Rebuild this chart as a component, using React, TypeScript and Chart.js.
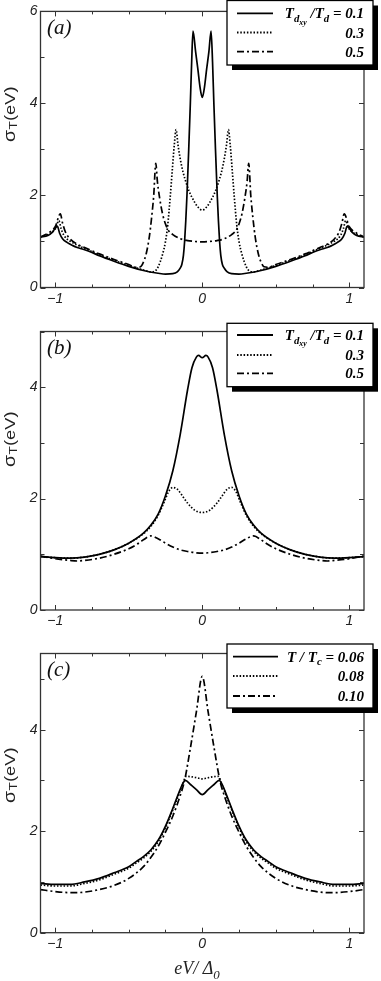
import React, { useEffect, useRef } from "react";
import { Chart, registerables } from "chart.js";

Chart.register(...registerables);

// ---------- data: x = eV/Δ0, y = σT (eV) ----------
// Panel (a)
const A1_X = [-1.1, -1.05, -1.02, -0.985, -0.97, -0.95, -0.92, -0.88, -0.85, -0.8, -0.75, -0.7, -0.6, -0.5, -0.4, -0.3, -0.25, -0.2, -0.17, -0.15, -0.139, -0.128, -0.12, -0.112, -0.104, -0.092, -0.081, -0.072, -0.063, -0.045, -0.03, -0.015, 0, 0.015, 0.03, 0.045, 0.06, 0.07, 0.079, 0.09, 0.102, 0.11, 0.118, 0.126, 0.137, 0.15, 0.17, 0.2, 0.25, 0.3, 0.4, 0.5, 0.6, 0.7, 0.75, 0.8, 0.85, 0.88, 0.92, 0.95, 0.97, 0.985, 1.02, 1.05, 1.1];
const A1_Y = [1.1, 1.13, 1.2, 1.33, 1.18, 1.06, 0.98, 0.91, 0.87, 0.82, 0.76, 0.69, 0.57, 0.46, 0.37, 0.31, 0.29, 0.3, 0.34, 0.42, 0.5, 0.7, 1.0, 1.45, 2.0, 3.0, 4.0, 4.9, 5.57, 5.12, 4.75, 4.35, 4.13, 4.35, 4.75, 5.12, 5.57, 4.9, 4.0, 3.0, 2.0, 1.45, 1.0, 0.7, 0.5, 0.42, 0.34, 0.3, 0.29, 0.31, 0.37, 0.46, 0.57, 0.69, 0.76, 0.82, 0.87, 0.91, 0.98, 1.06, 1.18, 1.33, 1.2, 1.13, 1.1];

const A2_X = [-1.1, -1.05, -1.0, -0.975, -0.96, -0.94, -0.9, -0.85, -0.8, -0.75, -0.7, -0.6, -0.5, -0.4, -0.35, -0.32, -0.3, -0.27, -0.25, -0.235, -0.217, -0.205, -0.19, -0.178, -0.165, -0.15, -0.13, -0.11, -0.09, -0.06, -0.03, 0, 0.03, 0.06, 0.09, 0.11, 0.13, 0.15, 0.165, 0.178, 0.19, 0.205, 0.217, 0.235, 0.25, 0.27, 0.3, 0.32, 0.35, 0.4, 0.5, 0.6, 0.7, 0.75, 0.8, 0.85, 0.9, 0.94, 0.96, 0.975, 1.0, 1.05, 1.1];
const A2_Y = [1.1, 1.15, 1.27, 1.45, 1.28, 1.13, 1.01, 0.92, 0.85, 0.78, 0.71, 0.59, 0.48, 0.38, 0.34, 0.36, 0.45, 0.72, 1.0, 1.35, 2.0, 2.5, 3.1, 3.43, 3.1, 2.8, 2.5, 2.28, 2.1, 1.9, 1.75, 1.68, 1.75, 1.9, 2.1, 2.28, 2.5, 2.8, 3.1, 3.43, 3.1, 2.5, 2.0, 1.35, 1.0, 0.72, 0.45, 0.36, 0.34, 0.38, 0.48, 0.59, 0.71, 0.78, 0.85, 0.92, 1.01, 1.13, 1.28, 1.45, 1.27, 1.15, 1.1];

const A3_X = [-1.1, -1.05, -1.0, -0.965, -0.95, -0.93, -0.9, -0.85, -0.8, -0.75, -0.7, -0.6, -0.5, -0.45, -0.42, -0.4, -0.38, -0.36, -0.345, -0.33, -0.316, -0.305, -0.29, -0.27, -0.25, -0.23, -0.2, -0.15, -0.1, -0.05, 0, 0.05, 0.1, 0.15, 0.2, 0.23, 0.25, 0.27, 0.29, 0.305, 0.316, 0.33, 0.345, 0.36, 0.38, 0.4, 0.42, 0.45, 0.5, 0.6, 0.7, 0.75, 0.8, 0.85, 0.9, 0.93, 0.95, 0.965, 1.0, 1.05, 1.1];
const A3_Y = [1.1, 1.18, 1.32, 1.6, 1.4, 1.2, 1.06, 0.94, 0.87, 0.8, 0.73, 0.61, 0.5, 0.44, 0.45, 0.55, 0.75, 1.1, 1.5, 2.0, 2.7, 2.3, 1.95, 1.6, 1.38, 1.24, 1.15, 1.06, 1.02, 1.0, 0.99, 1.0, 1.02, 1.06, 1.15, 1.24, 1.38, 1.6, 1.95, 2.3, 2.7, 2.0, 1.5, 1.1, 0.75, 0.55, 0.45, 0.44, 0.5, 0.61, 0.73, 0.8, 0.87, 0.94, 1.06, 1.2, 1.4, 1.6, 1.32, 1.18, 1.1];

// Panel (b)
const B1_X = [-1.1, -1.0, -0.9, -0.8, -0.7, -0.6, -0.5, -0.4, -0.35, -0.3, -0.25, -0.2, -0.15, -0.1, -0.07, -0.04, -0.025, 0, 0.025, 0.04, 0.07, 0.1, 0.15, 0.2, 0.25, 0.3, 0.35, 0.4, 0.5, 0.6, 0.7, 0.8, 0.9, 1.0, 1.1];
const B1_Y = [0.96, 0.94, 0.93, 0.95, 1.0, 1.08, 1.2, 1.38, 1.52, 1.72, 2.05, 2.5, 3.15, 3.95, 4.35, 4.54, 4.57, 4.53, 4.57, 4.54, 4.35, 3.95, 3.15, 2.5, 2.05, 1.72, 1.52, 1.38, 1.2, 1.08, 1.0, 0.95, 0.93, 0.94, 0.96];

const B2_X = [-1.1, -1.0, -0.9, -0.8, -0.7, -0.6, -0.5, -0.4, -0.35, -0.3, -0.26, -0.23, -0.2, -0.17, -0.13, -0.1, -0.05, 0, 0.05, 0.1, 0.13, 0.17, 0.2, 0.23, 0.26, 0.3, 0.35, 0.4, 0.5, 0.6, 0.7, 0.8, 0.9, 1.0, 1.1];
const B2_Y = [0.96, 0.94, 0.93, 0.95, 1.0, 1.08, 1.2, 1.37, 1.5, 1.7, 1.93, 2.12, 2.2, 2.17, 2.03, 1.92, 1.79, 1.75, 1.79, 1.92, 2.03, 2.17, 2.2, 2.12, 1.93, 1.7, 1.5, 1.37, 1.2, 1.08, 1.0, 0.95, 0.93, 0.94, 0.96];

const B3_X = [-1.1, -1.0, -0.9, -0.85, -0.8, -0.7, -0.6, -0.5, -0.45, -0.4, -0.35, -0.3, -0.25, -0.2, -0.15, -0.1, -0.05, 0, 0.05, 0.1, 0.15, 0.2, 0.25, 0.3, 0.35, 0.4, 0.45, 0.5, 0.6, 0.7, 0.8, 0.85, 0.9, 1.0, 1.1];
const B3_Y = [0.97, 0.92, 0.89, 0.88, 0.89, 0.93, 1.0, 1.1, 1.17, 1.26, 1.33, 1.28, 1.2, 1.13, 1.08, 1.05, 1.03, 1.02, 1.03, 1.05, 1.08, 1.13, 1.2, 1.28, 1.33, 1.26, 1.17, 1.1, 1.0, 0.93, 0.89, 0.88, 0.89, 0.92, 0.97];

// Panel (c)
const C1_X = [-1.1, -1.0, -0.9, -0.8, -0.7, -0.6, -0.5, -0.45, -0.4, -0.35, -0.3, -0.25, -0.2, -0.16, -0.13, -0.115, -0.08, -0.04, 0, 0.04, 0.08, 0.115, 0.13, 0.16, 0.2, 0.25, 0.3, 0.35, 0.4, 0.45, 0.5, 0.6, 0.7, 0.8, 0.9, 1.0, 1.1];
const C1_Y = [0.97, 0.95, 0.95, 1.0, 1.07, 1.18, 1.3, 1.4, 1.5, 1.63, 1.82, 2.1, 2.45, 2.75, 2.95, 3.0, 2.92, 2.82, 2.72, 2.82, 2.92, 3.0, 2.95, 2.75, 2.45, 2.1, 1.82, 1.63, 1.5, 1.4, 1.3, 1.18, 1.07, 1.0, 0.95, 0.95, 0.97];

const C2_X = [-1.1, -1.0, -0.9, -0.8, -0.7, -0.6, -0.5, -0.45, -0.4, -0.35, -0.3, -0.25, -0.2, -0.16, -0.13, -0.11, -0.07, -0.035, 0, 0.035, 0.07, 0.11, 0.13, 0.16, 0.2, 0.25, 0.3, 0.35, 0.4, 0.45, 0.5, 0.6, 0.7, 0.8, 0.9, 1.0, 1.1];
const C2_Y = [0.94, 0.92, 0.92, 0.97, 1.04, 1.15, 1.27, 1.37, 1.47, 1.6, 1.79, 2.07, 2.42, 2.72, 2.95, 3.08, 3.07, 3.05, 3.03, 3.05, 3.07, 3.08, 2.95, 2.72, 2.42, 2.07, 1.79, 1.6, 1.47, 1.37, 1.27, 1.15, 1.04, 0.97, 0.92, 0.92, 0.94];

const C3_X = [-1.1, -1.0, -0.9, -0.85, -0.8, -0.7, -0.6, -0.5, -0.4, -0.35, -0.3, -0.25, -0.2, -0.15, -0.12, -0.08, -0.04, 0, 0.04, 0.08, 0.12, 0.15, 0.2, 0.25, 0.3, 0.35, 0.4, 0.5, 0.6, 0.7, 0.8, 0.85, 0.9, 1.0, 1.1];
const C3_Y = [0.85, 0.81, 0.79, 0.79, 0.8, 0.85, 0.93, 1.07, 1.3, 1.48, 1.7, 1.98, 2.3, 2.7, 3.0, 3.65, 4.35, 5.05, 4.35, 3.65, 3.0, 2.7, 2.3, 1.98, 1.7, 1.48, 1.3, 1.07, 0.93, 0.85, 0.8, 0.79, 0.79, 0.81, 0.85];

// ---------- ticks & labels ----------
const X_TICKS = [-1, -0.75, -0.5, -0.25, 0, 0.25, 0.5, 0.75, 1];
const X_LABELS = [-1, 0, 1];
const Y_TICKS_A = [0, 1, 2, 3, 4, 5, 6];
const Y_TICKS_BC = [0, 1, 2, 3, 4, 5];
const Y_LABELS_A = [0, 2, 4, 6];
const Y_LABELS_BC = [0, 2, 4];
const LEGEND_TD = ["0.1", "0.3", "0.5"];
const LEGEND_TC = ["0.06", "0.08", "0.10"];

const SANS = "'Liberation Sans', Arial, Helvetica, sans-serif";
const SERIF = "'Liberation Serif', 'Times New Roman', Times, serif";

const DASH_SOLID: number[] = [];
const DASH_DOT = [1.5, 1.8];
const DASH_DASHDOT = [7, 3, 2, 3];

type Seg = [string, number];

function segFont(level: number, bold: boolean, italic: boolean, family: string, base: number) {
  const sizes = [base, base * 0.72, base * 0.52];
  return `${italic ? "italic " : ""}${bold ? "bold " : ""}${sizes[level]}px ${family}`;
}
const SUB_OFF = [0, 3.5, 6];

function segsWidth(ctx: CanvasRenderingContext2D, segs: Seg[], bold: boolean, italic: boolean, family: string, base: number) {
  let w = 0;
  for (const [t, l] of segs) {
    ctx.font = segFont(l, bold, italic, family, base);
    w += ctx.measureText(t).width;
  }
  return w;
}
function drawSegs(ctx: CanvasRenderingContext2D, segs: Seg[], x: number, y: number, bold: boolean, italic: boolean, family: string, base: number) {
  let cx = x;
  ctx.textAlign = "left";
  ctx.textBaseline = "alphabetic";
  for (const [t, l] of segs) {
    ctx.font = segFont(l, bold, italic, family, base);
    ctx.fillText(t, cx, y + SUB_OFF[l] * (base / 14));
    cx += ctx.measureText(t).width;
  }
}

type PanelSpec = {
  letter: string;
  h: number;
  top: number;
  bottom: number;
  yMax: number;
  yTicks: number[];
  yLabels: number[];
  series: { x: number[]; y: number[]; dash: number[] }[];
  legendTop: number;
  legendH: number;
  rows: number[];
  lineX0: number;
  lineX1: number;
  legendFirst: Seg[];
  legendValues: string[];
  yTitleY: number;
  xTitle: boolean;
};

const PANELS: PanelSpec[] = [
  {
    letter: "(a)", h: 320, top: 8.5, bottom: 287.5, yMax: 6, yTicks: Y_TICKS_A, yLabels: Y_LABELS_A,
    series: [
      { x: A1_X, y: A1_Y, dash: DASH_SOLID },
      { x: A2_X, y: A2_Y, dash: DASH_DOT },
      { x: A3_X, y: A3_Y, dash: DASH_DASHDOT },
    ],
    legendTop: 0.5, legendH: 64.5, rows: [13.3, 32.5, 51.7], lineX0: 237, lineX1: 273,
    legendFirst: [["T", 0], ["d", 1], ["xy", 2], [" /T", 0], ["d", 1], [" = " + LEGEND_TD[0], 0]],
    legendValues: LEGEND_TD, yTitleY: 114, xTitle: false,
  },
  {
    letter: "(b)", h: 320, top: 11.5, bottom: 290, yMax: 5, yTicks: Y_TICKS_BC, yLabels: Y_LABELS_BC,
    series: [
      { x: B1_X, y: B1_Y, dash: DASH_SOLID },
      { x: B2_X, y: B2_Y, dash: DASH_DOT },
      { x: B3_X, y: B3_Y, dash: DASH_DASHDOT },
    ],
    legendTop: 3.3, legendH: 63.4, rows: [15, 35, 53.3], lineX0: 237, lineX1: 273,
    legendFirst: [["T", 0], ["d", 1], ["xy", 2], [" /T", 0], ["d", 1], [" = " + LEGEND_TD[0], 0]],
    legendValues: LEGEND_TD, yTitleY: 119, xTitle: false,
  },
  {
    letter: "(c)", h: 341, top: 13.5, bottom: 292.7, yMax: 5.5, yTicks: Y_TICKS_BC, yLabels: Y_LABELS_BC,
    series: [
      { x: C1_X, y: C1_Y, dash: DASH_SOLID },
      { x: C2_X, y: C2_Y, dash: DASH_DOT },
      { x: C3_X, y: C3_Y, dash: DASH_DASHDOT },
    ],
    legendTop: 4, legendH: 64, rows: [16.7, 36, 56], lineX0: 233, lineX1: 278,
    legendFirst: [["T / T", 0], ["c", 1], [" = " + LEGEND_TC[0], 0]],
    legendValues: LEGEND_TC, yTitleY: 135, xTitle: true,
  },
];

const LEG_LEFT = 227;
const LEG_RIGHT = 373;
const TEXT_RIGHT = 364;

function decorPlugin(p: PanelSpec) {
  return {
    id: "decor",
    afterDraw(chart: any) {
      const ctx: CanvasRenderingContext2D = chart.ctx;
      const { left, right, top, bottom } = chart.chartArea;
      const xs = chart.scales.x;
      const ys = chart.scales.y;
      ctx.save();
      // frame
      ctx.setLineDash([]);
      ctx.strokeStyle = "#333";
      ctx.lineWidth = 1.3;
      ctx.strokeRect(left, top, right - left, bottom - top);
      // inward ticks on all four sides
      ctx.lineWidth = 1;
      ctx.beginPath();
      for (const v of X_TICKS) {
        const px = Math.round(xs.getPixelForValue(v)) + 0.5;
        const len = X_LABELS.includes(v) ? 5 : 3;
        ctx.moveTo(px, bottom); ctx.lineTo(px, bottom - len);
        ctx.moveTo(px, top); ctx.lineTo(px, top + len);
      }
      for (const v of p.yTicks) {
        const py = Math.round(ys.getPixelForValue(v)) + 0.5;
        const len = p.yLabels.includes(v) ? 5 : 4;
        ctx.moveTo(left, py); ctx.lineTo(left + len, py);
        ctx.moveTo(right, py); ctx.lineTo(right - len, py);
      }
      ctx.stroke();

      // panel letter
      ctx.fillStyle = "#111";
      ctx.font = `italic 21px ${SERIF}`;
      ctx.textAlign = "left";
      ctx.textBaseline = "middle";
      ctx.fillText(p.letter, 47, p.letter === "(c)" ? 30.5 : 28.5);

      // legend box with shadow
      const lw = LEG_RIGHT - LEG_LEFT;
      ctx.fillStyle = "#000";
      ctx.fillRect(LEG_LEFT + 5, p.legendTop + 5, lw, p.legendH);
      ctx.fillStyle = "#fff";
      ctx.fillRect(LEG_LEFT, p.legendTop, lw, p.legendH);
      ctx.strokeStyle = "#000";
      ctx.lineWidth = 1.3;
      ctx.strokeRect(LEG_LEFT, p.legendTop, lw, p.legendH);
      p.series.forEach((s, i) => {
        const y = p.rows[i];
        ctx.beginPath();
        ctx.setLineDash(s.dash);
        ctx.lineWidth = 1.8;
        ctx.moveTo(p.lineX0, y);
        ctx.lineTo(p.lineX1, y);
        ctx.stroke();
      });
      ctx.setLineDash([]);
      ctx.fillStyle = "#000";
      const base = 15;
      const w0 = segsWidth(ctx, p.legendFirst, true, true, SERIF, base);
      drawSegs(ctx, p.legendFirst, TEXT_RIGHT - w0, p.rows[0] + 5, true, true, SERIF, base);
      for (let i = 1; i < 3; i++) {
        const segs: Seg[] = [[p.legendValues[i], 0]];
        const w = segsWidth(ctx, segs, true, true, SERIF, base);
        drawSegs(ctx, segs, TEXT_RIGHT - w, p.rows[i] + 5, true, true, SERIF, base);
      }

      // y-axis title σT(eV), rotated
      ctx.save();
      ctx.translate(10.5, p.yTitleY);
      ctx.rotate(-Math.PI / 2);
      ctx.scale(1.22, 1);
      const ySegs: [string, number, number][] = [["σ", 16, 0], ["T", 11, 3], ["(eV)", 15, 0]];
      let tw = 0;
      for (const [t, sz] of ySegs) { ctx.font = `${sz}px ${SANS}`; tw += ctx.measureText(t).width + 0.3; }
      let cx = -tw / 2;
      ctx.textBaseline = "middle";
      ctx.fillStyle = "#222";
      for (const [t, sz, off] of ySegs) {
        ctx.font = `${sz}px ${SANS}`;
        ctx.fillText(t, cx, off);
        cx += ctx.measureText(t).width + 0.3;
      }
      ctx.restore();

      // x-axis title
      if (p.xTitle) {
        const xSegs: Seg[] = [["eV/ Δ", 0], ["0", 1]];
        const w = segsWidth(ctx, xSegs, false, true, SERIF, 18);
        ctx.fillStyle = "#222";
        drawSegs(ctx, xSegs, 197 - w / 2, 334, false, true, SERIF, 18);
      }
      ctx.restore();
    },
  };
}

function fmt(v: number) {
  return v < 0 ? "\u2212" + Math.abs(v) : String(v);
}

function Panel({ spec }: { spec: PanelSpec }) {
  const ref = useRef<HTMLCanvasElement | null>(null);
  useEffect(() => {
    if (!ref.current) return;
    const tickFont = { family: SANS, size: 14, style: "italic" as const };
    const chart = new Chart(ref.current, {
      type: "line",
      data: {
        datasets: spec.series.map((s) => ({
          data: s.x.map((x, i) => ({ x, y: s.y[i] })),
          borderColor: "#000",
          backgroundColor: "#000",
          borderWidth: 1.7,
          borderDash: s.dash,
          pointRadius: 0,
          fill: false,
          cubicInterpolationMode: "monotone" as const,
        })),
      },
      options: {
        animation: false,
        responsive: false,
        maintainAspectRatio: false,
        layout: { padding: { top: spec.top, right: 381 - 364, left: 0, bottom: 0 } },
        plugins: { legend: { display: false }, tooltip: { enabled: false } },
        scales: {
          x: {
            type: "linear",
            min: -1.1,
            max: 1.1,
            grid: { display: false, drawTicks: false },
            border: { display: false },
            ticks: { font: tickFont, color: "#222", padding: 3, maxRotation: 0, autoSkip: false, callback: (v: any) => fmt(Number(v)) },
            afterBuildTicks: (s: any) => { s.ticks = X_LABELS.map((v) => ({ value: v })); },
            afterFit: (s: any) => { s.height = spec.h - spec.bottom; },
          },
          y: {
            type: "linear",
            min: 0,
            max: spec.yMax,
            grid: { display: false, drawTicks: false },
            border: { display: false },
            ticks: { font: tickFont, color: "#222", padding: 3, autoSkip: false, callback: (v: any) => fmt(Number(v)) },
            afterBuildTicks: (s: any) => { s.ticks = spec.yLabels.map((v) => ({ value: v })); },
            afterFit: (s: any) => { s.width = 40.5; },
          },
        },
      },
      plugins: [decorPlugin(spec)],
    } as any);
    return () => chart.destroy();
  }, [spec]);
  return <canvas ref={ref} width={381} height={spec.h} style={{ display: "block", width: 381, height: spec.h }} />;
}

export default function App() {
  return (
    <div style={{ position: "absolute", left: 0, top: 0, width: 381, height: 981, background: "#fff" }}>
      {PANELS.map((p) => (
        <Panel key={p.letter} spec={p} />
      ))}
    </div>
  );
}
